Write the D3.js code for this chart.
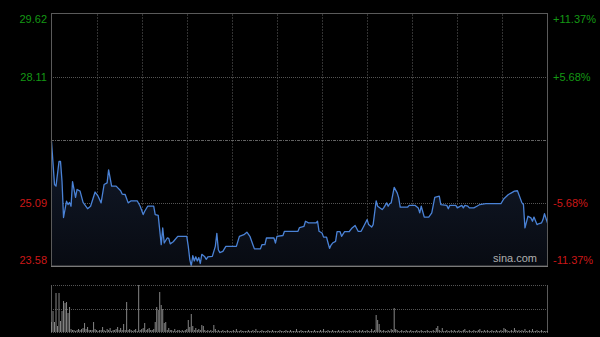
<!DOCTYPE html>
<html>
<head>
<meta charset="utf-8">
<script src="https://cdn.jsdelivr.net/npm/d3@7"></script>
<style>
  html, body { margin: 0; padding: 0; background: #000; }
  svg { display: block; font-family: "Liberation Sans", Arial, sans-serif; }
</style>
</head>
<body>
<script>
//Price line (minute of the session, price)
var minutes = [0,2,3,5,6,7,8,10,11,12,13,14,16,17,19,21,24,26,29,31,33,35,37,38,40,43,46,47,49,51,
  53,57,59,61,62,64,68,69,71,73,74,75,77,78,79,81,84,87,90,91,92,93,94,95,96,97,98,99,100,102,
  103,104,107,108,109,110,111,112,114,116,123,125,128,130,132,134,135,139,140,142,143,148,149,150,154,155,164,165,168,169,
  171,176,177,178,180,181,183,184,185,186,187,189,190,192,193,195,198,200,202,204,206,208,210,211,213,214,216,217,220,221,
  223,224,225,226,228,230,231,232,237,238,242,244,245,246,248,251,253,255,258,259,263,264,265,269,270,273,274,275,277,278,
  281,283,285,289,299,301,304,306,308,310,313,314,315,317,319,320,321,323,324,326,327,328,330];
var prices = [26.56,25.53,25.49,26.08,26.08,25.60,24.74,25.13,25.05,25.10,25.01,25.60,25.22,25.41,25.37,25.10,24.95,25.01,25.35,25.25,
  25.09,25.53,25.57,25.88,25.49,25.49,25.38,25.30,25.29,25.09,25.14,25.14,25.01,24.81,24.89,25.01,25.01,24.81,24.79,24.09,
  24.49,24.13,24.25,24.24,24.11,24.16,24.29,24.29,24.29,24.05,23.74,23.58,23.83,23.70,23.80,23.70,23.78,23.64,23.86,23.80,
  23.74,23.80,23.81,23.93,24.05,24.36,23.97,23.90,23.93,24.05,24.05,24.29,24.33,24.39,24.29,24.09,23.99,23.99,24.09,24.09,
  24.25,24.25,24.13,24.29,24.31,24.41,24.41,24.50,24.53,24.65,24.61,24.61,24.65,24.41,24.37,24.27,24.27,24.13,24.00,24.08,
  24.13,24.17,24.40,24.40,24.29,24.40,24.40,24.49,24.55,24.41,24.41,24.55,24.69,24.57,24.51,24.57,25.14,25.01,24.93,24.97,
  25.09,25.01,25.07,25.09,25.46,25.33,25.21,24.99,24.99,25.03,25.03,24.97,24.85,25.01,24.75,24.75,24.85,25.22,25.25,25.05,
  25.03,24.95,25.03,25.03,24.97,25.03,24.97,25.03,25.01,24.97,24.97,25.01,25.05,25.07,25.07,25.19,25.29,25.33,25.37,25.38,
  25.09,25.05,24.49,24.77,24.73,24.65,24.75,24.57,24.59,24.61,24.69,24.83,24.61];

//Volume per minute (relative units)
var volumes = [10,21,10,39,6,39,11,21,31,29,30,19,25,3,2,2,1,2,3,2,
  3,4,9,3,5,2,2,2,10,3, 2,1,2,2,5,2,1,3,2,4, 1,2,2,3,5,2,4,2,8,2,
  30,2,3,2,1,2,3,1,47,2, 3,4,9,2,3,4,2,2,3,10, 25,22,40,27,23,9,10,2,4,2,
  2,1,3,1,2,2,1,2,1,2, 3,12,5,18,6,2,4,2,3,2, 7,6,2,1,2,1,2,1,7,3,
  1,2,1,1,2,1,1,2,1,1, 1,2,1,3,1,1,2,1,1,1, 1,2,1,1,2,1,3,1,1,1,
  2,1,1,1,2,1,1,2,1,1, 1,1,2,1,1,1,2,1,1,2, 1,1,1,3,1,1,2,1,1,1,
  1,2,1,1,1,2,1,1,1,2, 1,3,1,1,2,1,1,2,1,1, 1,2,1,1,2,1,1,1,2,1,
  1,1,2,1,1,2,1,2,1,1, 2,1,1,3,1,2,17,12,8,2, 1,2,1,1,2,1,3,2,24,3,
  2,1,1,2,1,1,2,1,1,2, 1,1,1,2,1,1,2,1,1,1, 2,1,1,1,2,1,4,6,2,1,
  4,1,1,2,1,1,2,1,2,1, 1,2,1,1,2,3,1,1,2,1, 1,2,1,1,2,3,1,1,2,1,
  2,1,1,2,1,1,2,1,1,2, 1,4,3,2,1,1,2,1,4,2, 1,2,1,2,1,3,1,1,2,1,
  3,1,1,2,1,1,2,1,1,1, 1];

//Axis labels
var priceTicks = ["29.62","28.11","26.60","25.09","23.58"];
var pctTicks = ["+11.37%","+5.68%","0.00%","-5.68%","-11.37%"];
var timeTicks = [30,60,90,120,150,180,210,240,270,300];

var W = 600, H = 337;
var svg = d3.select("body").append("svg").attr("width", W).attr("height", H);

var x = d3.scaleLinear().domain([0, 330]).range([51.5, 547.5]);
var y = d3.scaleLinear().domain([23.58, 29.62]).range([266, 13.5]);
var vy = d3.scaleLinear().domain([0, 47]).range([332, 285]);

//gradient under the line
var grad = svg.append("defs").append("linearGradient")
  .attr("id", "fillgrad").attr("x1", 0).attr("y1", 0).attr("x2", 0).attr("y2", 1);
grad.append("stop").attr("offset", "0%").attr("stop-color", "#121a2a");
grad.append("stop").attr("offset", "100%").attr("stop-color", "#080b12");

//vertical grid
svg.selectAll("line.vgrid").data(timeTicks).enter().append("line")
  .attr("class", "vgrid")
  .attr("x1", function(d){return Math.round(x(d)) + 0.5;})
  .attr("x2", function(d){return Math.round(x(d)) + 0.5;})
  .attr("y1", 14).attr("y2", 266)
  .style("stroke", "#323232").style("stroke-dasharray", "2,1");

//horizontal grid
svg.selectAll("line.hgrid").data(priceTicks.slice(1, 4)).enter().append("line")
  .attr("class", "hgrid")
  .attr("x1", 51).attr("x2", 548)
  .attr("y1", function(d){return Math.round(y(+d)) + 0.5;})
  .attr("y2", function(d){return Math.round(y(+d)) + 0.5;})
  .style("stroke", function(d, i){return i == 1 ? "#626262" : "#555";})
  .style("stroke-dasharray", function(d, i){return i == 1 ? "3,1,1,1" : "1,1";});

//area + line
var pts = minutes.map(function(m, i){return [m, prices[i]];});
svg.append("path").datum(pts)
  .attr("d", d3.area().x(function(d){return x(d[0]);}).y0(266).y1(function(d){return y(d[1]);}))
  .style("fill", "url(#fillgrad)");
svg.append("path").datum(pts)
  .attr("d", d3.line().x(function(d){return x(d[0]);}).y(function(d){return y(d[1]);}))
  .style("fill", "none").style("stroke", "#4a82d6").style("stroke-width", 1.3)
  .style("stroke-linejoin", "round");

//frame of the price panel
svg.append("rect").attr("x", 51.5).attr("y", 13.5).attr("width", 496).attr("height", 252.5)
  .style("fill", "none").style("stroke", "#5a5a5a");
svg.append("line").attr("x1", 51).attr("x2", 548).attr("y1", 266.5).attr("y2", 266.5)
  .style("stroke", "#7a7a7a");

//price labels (left) and percent labels (right)
var labelY = [19, 77, null, 203, 260];
svg.selectAll("text.pl").data(priceTicks).enter().append("text")
  .filter(function(d, i){return labelY[i] != null;})
  .attr("class", "pl")
  .attr("x", 47).attr("y", function(d){return labelY[priceTicks.indexOf(d)];})
  .attr("dy", "0.35em").attr("text-anchor", "end")
  .style("font-size", "11px")
  .style("fill", function(d){return +d > 26.6 ? "#149814" : "#cc1818";})
  .text(function(d){return d;});
svg.selectAll("text.pr").data(pctTicks).enter().append("text")
  .filter(function(d, i){return labelY[i] != null;})
  .attr("class", "pr")
  .attr("x", 553).attr("y", function(d){return labelY[pctTicks.indexOf(d)];})
  .attr("dy", "0.35em").attr("text-anchor", "start")
  .style("font-size", "11px")
  .style("fill", function(d){return d[0] == "+" ? "#149814" : "#cc1818";})
  .text(function(d){return d;});

//watermark
svg.append("text").attr("x", 537).attr("y", 262).attr("text-anchor", "end")
  .style("font-size", "11px").style("fill", "#b0b0b0").text("sina.com");

//volume panel
[285, 309].forEach(function(v){
  svg.append("line").attr("x1", 51).attr("x2", 548).attr("y1", v + 0.5).attr("y2", v + 0.5)
    .style("stroke", "#555").style("stroke-dasharray", "1,1");
});
svg.append("line").attr("x1", 51).attr("x2", 548).attr("y1", 332.5).attr("y2", 332.5)
  .style("stroke", "#555").style("stroke-dasharray", "1,1");
svg.append("line").attr("x1", 51.5).attr("x2", 51.5).attr("y1", 285).attr("y2", 333).style("stroke", "#5a5a5a");
svg.append("line").attr("x1", 547.5).attr("x2", 547.5).attr("y1", 285).attr("y2", 333).style("stroke", "#5a5a5a");

svg.selectAll("rect.vol").data(volumes).enter().append("rect")
  .attr("class", "vol")
  .attr("x", function(d, i){return x(i) - 0.5;})
  .attr("y", function(d){return vy(d);})
  .attr("width", 1)
  .attr("height", function(d){return 332 - vy(d);})
  .style("fill", "#858585");
</script>
</body>
</html>
